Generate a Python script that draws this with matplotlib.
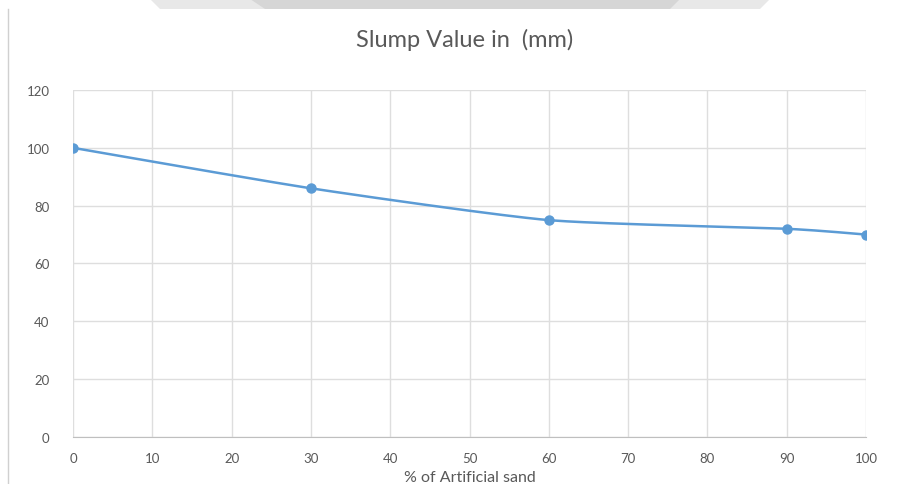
import numpy as np
import matplotlib
matplotlib.use('Agg')
import matplotlib.pyplot as plt
from matplotlib.lines import Line2D
from matplotlib.patches import Polygon

# data
sand_pct = [0, 30, 60, 90, 100]
slump_mm = [100, 86, 75, 72, 70]
x_ticks = list(range(0, 101, 10))
y_ticks = list(range(0, 121, 20))


def smooth(xs, ys, n=40):
	# catmull-rom style smoothing, like the office "smoothed line"
	xs = np.asarray(xs, float)
	ys = np.asarray(ys, float)
	px = np.concatenate([[xs[0]], xs, [xs[-1]]])
	py = np.concatenate([[ys[0]], ys, [ys[-1]]])
	out_x, out_y = [], []
	for i in range(1, len(px) - 2):
		t = np.linspace(0, 1, n)
		p0x, p1x, p2x, p3x = px[i - 1], px[i], px[i + 1], px[i + 2]
		p0y, p1y, p2y, p3y = py[i - 1], py[i], py[i + 1], py[i + 2]
		m1x = (p2x - p0x) / 2 * 0.6
		m2x = (p3x - p1x) / 2 * 0.6
		m1y = (p2y - p0y) / 2 * 0.6
		m2y = (p3y - p1y) / 2 * 0.6
		h00 = 2 * t**3 - 3 * t**2 + 1
		h10 = t**3 - 2 * t**2 + t
		h01 = -2 * t**3 + 3 * t**2
		h11 = t**3 - t**2
		out_x.extend(h00 * p1x + h10 * m1x + h01 * p2x + h11 * m2x)
		out_y.extend(h00 * p1y + h10 * m1y + h01 * p2y + h11 * m2y)
	return out_x, out_y


plt.rcParams['font.family'] = ['Lato', 'DejaVu Sans']
txt = '#595959'
blue = '#5B9BD5'

fig = plt.figure(figsize=(8.99, 4.85), dpi=100)
ax = fig.add_axes([0.0812, 0.0969, 0.8821, 0.7155])

sx, sy = smooth(sand_pct, slump_mm)
ax.plot(sx, sy, color=blue, lw=1.8, solid_capstyle='round', zorder=3)
ax.plot(sand_pct, slump_mm, 'o', color=blue, ms=6.5, zorder=4)

ax.set_xlim(0, 100)
ax.set_ylim(0, 120)
ax.set_xticks(x_ticks)
ax.set_yticks(y_ticks)
ax.grid(True, color='#DEDEDE', lw=1)
ax.set_axisbelow(True)
for s in ['top', 'right', 'left']:
	ax.spines[s].set_visible(False)
ax.spines['bottom'].set_color('#BFBFBF')
ax.tick_params(length=0, labelsize=9.5, colors=txt, pad=11)
ax.tick_params(axis='y', pad=17)
ax.set_xlabel('% of Artificial sand', fontsize=11.5, color=txt, labelpad=4)
fig.text(0.517, 0.918, 'Slump Value in  (mm)', ha='center', va='center', fontsize=17, color=txt)

# leftovers of the screenshot: grey shape at the top, thin line at the left
W, H = 899.0, 485.0
def px(pts):
	return [(x / W, 1 - y / H) for x, y in pts]
fig.add_artist(Polygon(px([(150, 0), (160, 10), (760, 10), (770, 0)]),
	closed=True, facecolor='#E8E8E8', edgecolor='none', transform=fig.transFigure))
fig.add_artist(Polygon(px([(250, 0), (265, 10), (670, 10), (680, 0)]),
	closed=True, facecolor='#D6D6D6', edgecolor='none', transform=fig.transFigure))
fig.add_artist(Line2D([0.009, 0.009], [0, 0.98], color='#D0D0D0', lw=1))

fig.savefig('out.png', dpi=100)
